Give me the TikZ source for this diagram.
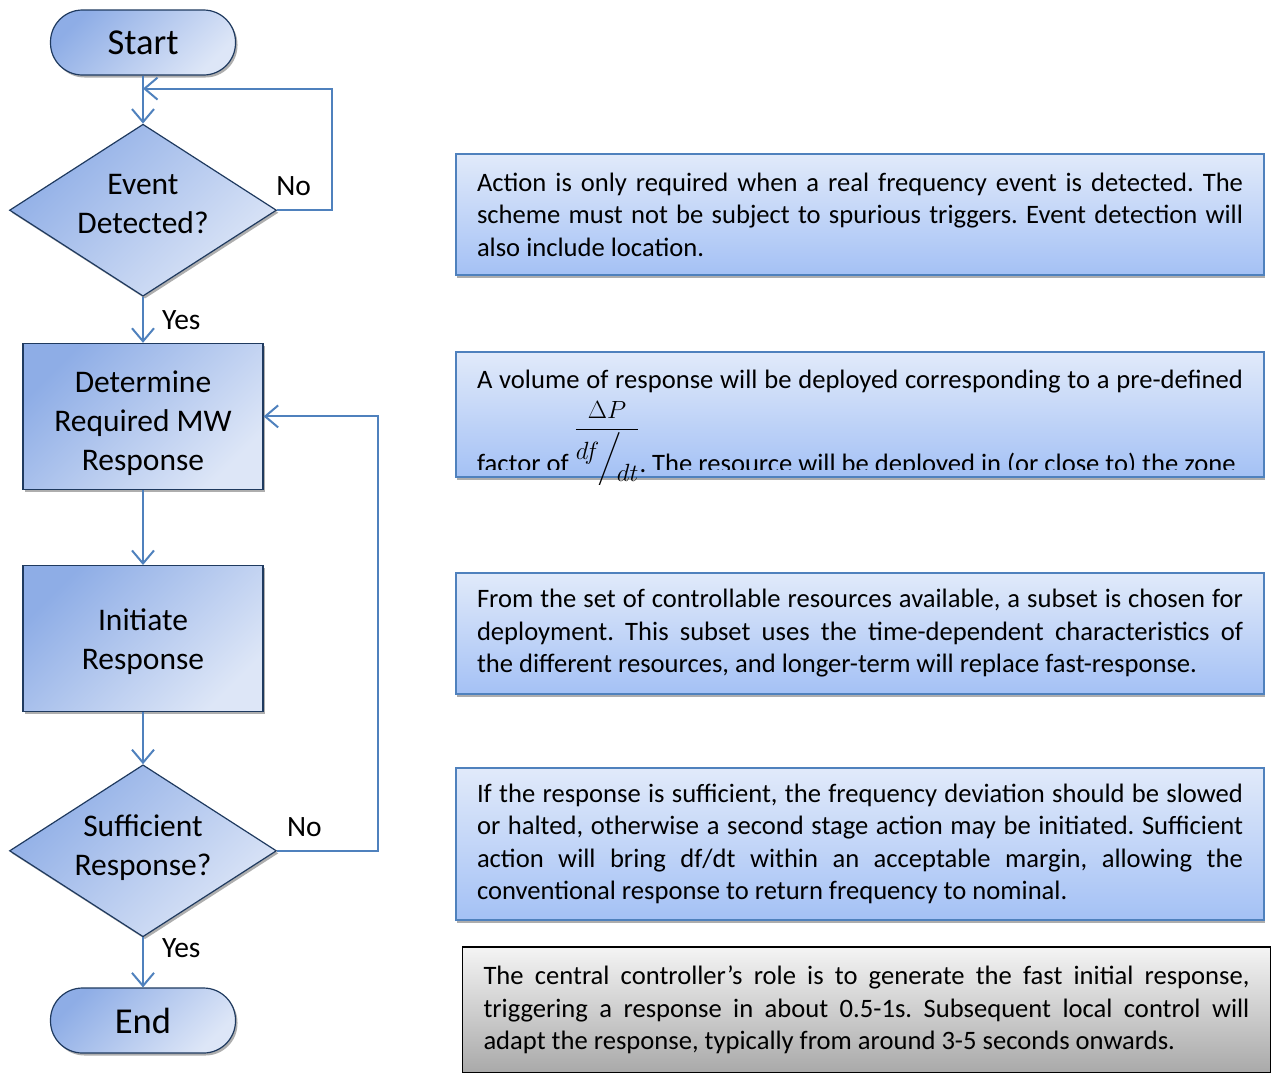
\documentclass[tikz,border=0pt]{standalone}
\usepackage{fontspec}
\usepackage{amsmath}
\setmainfont{Carlito}
\usetikzlibrary{positioning, arrows.meta, shapes.geometric, shadows, calc}
\hyphenpenalty=10000
\exhyphenpenalty=10000
\frenchspacing

\definecolor{flowline}{HTML}{4F81BD}
\definecolor{flowedge}{HTML}{1F3A5F}
\definecolor{flowdark}{HTML}{8EADE6}
\definecolor{flowlight}{HTML}{DDE6F7}
\definecolor{notetop}{HTML}{E1EAFA}
\definecolor{notebot}{HTML}{A4C1F5}
\definecolor{greytop}{HTML}{F4F4F4}
\definecolor{greybot}{HTML}{A9A9A9}

\tikzset{
  flowbox/.style={draw=flowedge, line width=1.2pt, top color=flowdark, bottom color=flowlight, shading angle=45,
    drop shadow={shadow xshift=2pt, shadow yshift=-2.5pt, fill=black!45, opacity=0.7},
    align=center, font=\fontsize{31.5}{39}\selectfont},
  terminal/.style={flowbox, rectangle, rounded corners=32pt, minimum width=185pt, minimum height=65pt, font=\fontsize{36.5}{40}\selectfont},
  decision/.style={flowbox, diamond, aspect=1.55, minimum width=267pt, minimum height=172pt, inner sep=0pt, text depth=12pt},
  process/.style={flowbox, rectangle, minimum width=240pt, minimum height=146pt},
  note/.style={draw=flowline, line width=1.3pt, top color=notetop, bottom color=notebot,
    drop shadow={shadow xshift=1pt, shadow yshift=-3pt, fill=black!40, opacity=0.8},
    text width=766pt, align=justify, inner xsep=21pt, minimum width=808pt, font=\fontsize{26.6}{32.5}\selectfont},
  link/.style={draw=flowline, line width=2pt, -{Straight Barb[length=13pt, width=22pt]}},
  lbl/.style={font=\fontsize{29.5}{32}\selectfont, inner sep=2pt}
}

\begin{document}
\begin{tikzpicture}[x=1pt, y=-1pt]
\useasboundingbox (0,0) rectangle (1271,1072);

% flow chart
\node [terminal] (start) at (143,42.5) {Start};
\node [decision, below=48pt of start] (event) {Event\\Detected?};
\node [process, below=46pt of event] (mwresp) {\rule{0pt}{36pt}Determine\\Required MW\\Response};
\node [process, below=75pt of mwresp] (initresp) {\rule{0pt}{27pt}Initiate\\Response};
\node [decision, below=52pt of initresp] (suffresp) {Sufficient\\Response?};
\node [terminal, below=50pt of suffresp] (finish) {End};

\coordinate (evloop) at ($(start.south)+(0,-13pt)$);

\draw[link] (start) -- (event);
\draw[link] (event.east) -- node[lbl, above=12pt, pos=0.3] (evno) {No} ++(55,0) |- (evloop);
\draw[link] (event) -- node[lbl, right=16pt] (evyes) {Yes} (mwresp);
\draw[link] (mwresp) -- (initresp);
\draw[link] (initresp) -- (suffresp);
\draw[link] (suffresp.east) -- node[lbl, above=11pt, pos=0.27] (sfno) {No} ++(101,0) |- (mwresp.east);
\draw[link] (suffresp) -- node[lbl, right=16pt, pos=0.22] (sfyes) {Yes} (finish);

% notes
\node [note, minimum height=121pt] (evnote) at (860,214.5) {Action is only required when a real frequency event is detected. The\linebreak scheme must not be subject to spurious triggers. Event detection will\linebreak also include location.};
\node [note, minimum height=125pt] (mwnote) at (860,414.5) {};
\begin{scope}
  \clip ($(mwnote.north west)+(1pt,-1pt)$) rectangle ($(mwnote.south east)+(-1pt,8pt)$)
        (565,420) rectangle (650,484);
  \node [anchor=north, inner sep=0pt, text width=766pt, align=justify, font=\fontsize{26.6}{32.5}\selectfont] (mwtext) at ($(mwnote.north)+(0,-18pt)$) {A volume of response will be deployed corresponding to a pre-defined\linebreak \rule{0pt}{79pt}factor of \raisebox{37pt}{$\displaystyle\frac{\Delta P}{\raisebox{9pt}{$df$}\!\bigg/\!\raisebox{-13pt}{$dt$}}$}. The resource will be deployed in (or close to) the zone\parfillskip=0pt};
\end{scope}
\node [note, minimum height=121pt] (setnote) at (860,633.5) {From the set of controllable resources available, a subset is chosen for\linebreak deployment. This subset uses the time-dependent characteristics of\linebreak the different resources, and longer-term will replace fast-response.};
\node [note, minimum height=152pt] (suffnote) at (860,844) {If the response is sufficient, the frequency deviation should be slowed\linebreak or halted, otherwise a second stage action may be initiated. Sufficient\linebreak action will bring df/dt within an acceptable margin, allowing the\linebreak conventional response to return frequency to nominal.};
\node [note, draw=black, top color=greytop, bottom color=greybot, minimum height=126pt, drop shadow={opacity=0}] (ctrlnote) at (866.5,1010) {The central controller’s role is to generate the fast initial response,\linebreak triggering a response in about 0.5-1s. Subsequent local control will\linebreak adapt the response, typically from around 3-5 seconds onwards.};
\end{tikzpicture}
\end{document}
